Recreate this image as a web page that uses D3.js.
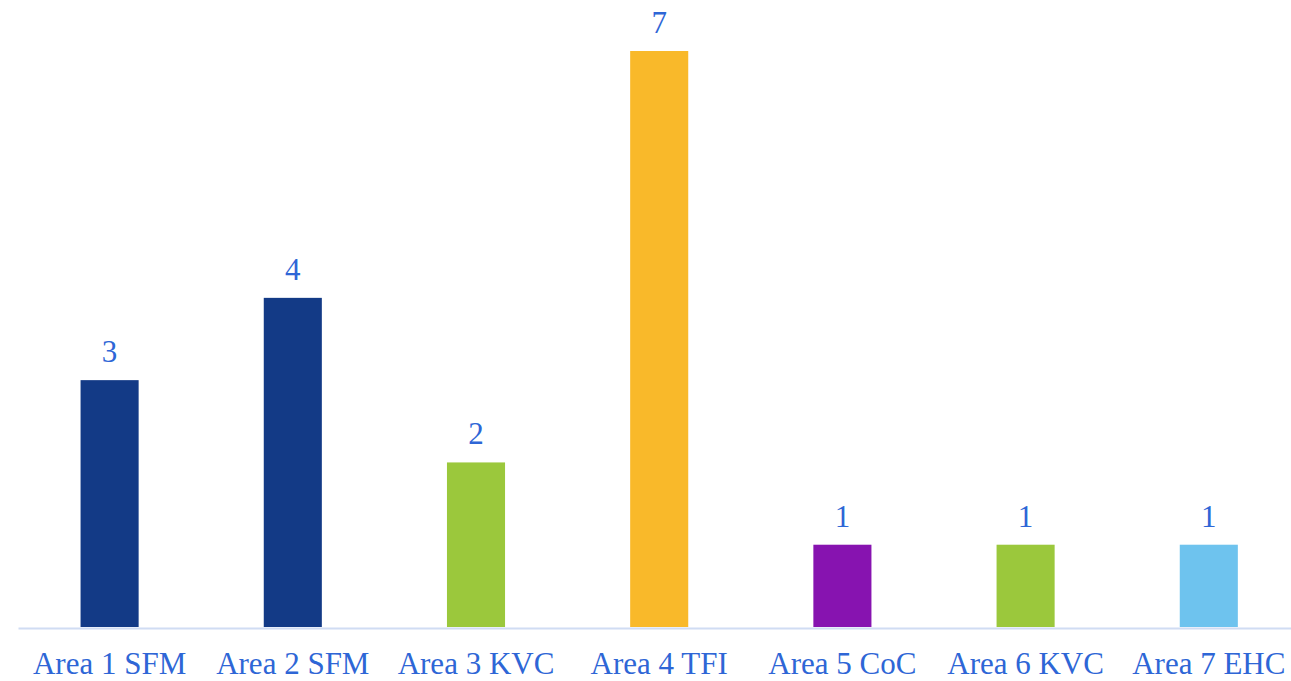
<!DOCTYPE html>
<html>
<head>
<meta charset="utf-8">
<script src="https://cdn.jsdelivr.net/npm/d3@7"></script>
<style>
  body { margin: 0; background: #fff; overflow: hidden; }
</style>
</head>
<body>
<svg class="chart"></svg>
<script>
// Data
const categories = ["Area 1 SFM", "Area 2 SFM", "Area 3 KVC", "Area 4 TFI", "Area 5 CoC", "Area 6 KVC", "Area 7 EHC"];
const values = [3, 4, 2, 7, 1, 1, 1];
const barColors = ["#133a86", "#133a86", "#9bc83c", "#f9b92a", "#8713b0", "#9bc83c", "#6ec3ee"];

// Dimensions
const width = 1291;
const height = 681;
const margin = { top: 51, bottom: 54, left: 18 };
const step = 183.2;
const textColor = "#2e66d6";
const fontFamily = "'Liberation Serif', 'Times New Roman', serif";

const svg = d3.select(".chart")
    .attr("width", width)
    .attr("height", height);

const x = d3.scaleBand()
    .domain(categories)
    .range([margin.left, margin.left + step * categories.length])
    .paddingInner(0.683)
    .paddingOuter(0.3415);

const y = d3.scaleLinear()
    .domain([0, 7])
    .range([height - margin.bottom, margin.top]);

// Bars
svg.selectAll(".bar")
    .data(values)
    .join("rect")
    .attr("class", "bar")
    .attr("x", (d, i) => x(categories[i]))
    .attr("y", d => y(d))
    .attr("width", x.bandwidth())
    .attr("height", d => y(0) - y(d))
    .attr("fill", (d, i) => barColors[i]);

// Axis line
const xAxis = svg.append("g")
    .attr("transform", `translate(0, ${y(0) + 1})`)
    .call(d3.axisBottom(x).tickSize(0).tickPadding(24));

xAxis.select(".domain")
    .attr("stroke", "#d0dcf3")
    .attr("stroke-width", 2);

xAxis.selectAll("text")
    .attr("font-family", fontFamily)
    .attr("font-size", "31px")
    .attr("fill", textColor);

// Value labels
svg.selectAll(".value-label")
    .data(values)
    .join("text")
    .attr("class", "value-label")
    .attr("x", (d, i) => x(categories[i]) + x.bandwidth() / 2)
    .attr("y", d => y(d) - 18)
    .attr("text-anchor", "middle")
    .attr("font-family", fontFamily)
    .attr("font-size", "31px")
    .attr("fill", textColor)
    .text(d => d);
</script>
</body>
</html>
